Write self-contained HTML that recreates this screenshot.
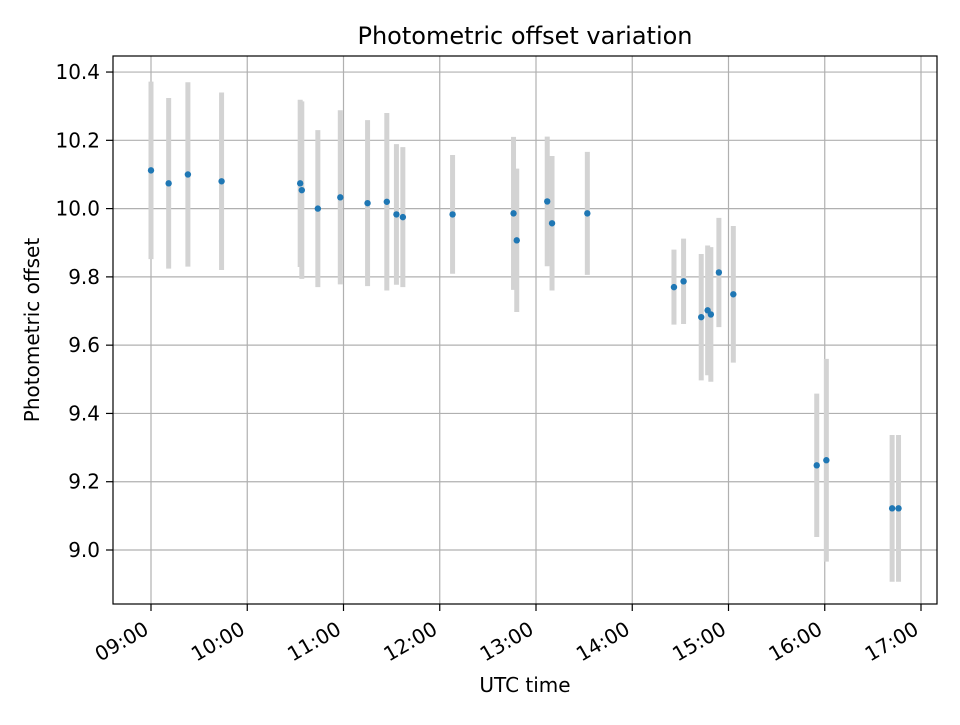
<!DOCTYPE html>
<html><head><meta charset="utf-8"><style>
body{margin:0;background:#fff}
svg text{font-family:"DejaVu Sans","Liberation Sans",sans-serif;fill:#000}
</style></head><body>
<svg id="chart" width="960" height="720" xmlns="http://www.w3.org/2000/svg">
<rect width="960" height="720" fill="#fff"/>
<g id="grid"></g>
<g id="errs"></g>
<g id="pts"></g>
<rect x="113" y="56" width="824" height="548" fill="none" stroke="#000" stroke-width="1.2"/>
<g id="ticks"></g>
<text x="525" y="44" font-size="24" text-anchor="middle">Photometric offset variation</text>
<text x="525" y="692" font-size="20" text-anchor="middle">UTC time</text>
<text transform="translate(39,330) rotate(-90)" font-size="20" text-anchor="middle">Photometric offset</text>
</svg>
<script>
// minutes after 09:00
const times=[0,11,23,44,93,94,104,118,135,147,153,157,188,226,228,247,250,272,326,332,343,347,349,354,363,415,421,462,466];
const values=[10.112,10.074,10.10,10.08,10.074,10.054,10.00,10.033,10.016,10.02,9.983,9.975,9.983,9.986,9.907,10.021,9.957,9.986,9.77,9.787,9.682,9.702,9.69,9.813,9.749,9.248,9.263,9.122,9.122];
const errors=[0.26,0.25,0.27,0.26,0.245,0.26,0.23,0.255,0.243,0.26,0.206,0.205,0.174,0.224,0.21,0.19,0.197,0.18,0.11,0.125,0.185,0.19,0.197,0.16,0.2,0.21,0.297,0.215,0.215];
const yTicks=[9.0,9.2,9.4,9.6,9.8,10.0,10.2,10.4];
const xTickLabels=["09:00","10:00","11:00","12:00","13:00","14:00","15:00","16:00","17:00"];
const NS="http://www.w3.org/2000/svg";
const L=113,R=937,T=56,B=604;
const xs=m=>151+m*96.25/60;
const ys=v=>550-(v-9)*341.4;
function mk(tag,attrs,parent){const e=document.createElementNS(NS,tag);for(const k in attrs)e.setAttribute(k,attrs[k]);parent.appendChild(e);return e;}
const grid=document.getElementById('grid'),ticks=document.getElementById('ticks');
yTicks.forEach(v=>{
  const y=ys(v);
  const g=mk('line',{x1:L,x2:R,y1:y,y2:y,stroke:'#b0b0b0','stroke-width':1.2},grid);
  
  
  mk('line',{x1:L-7,x2:L,y1:y,y2:y,stroke:'#000','stroke-width':1.2},ticks);
  const t=mk('text',{x:L-13,y:y+7,'font-size':20,'text-anchor':'end'},ticks);
  t.textContent=v.toFixed(1);
  
  
});
xTickLabels.forEach((lab,i)=>{
  const x=xs(i*60);
  const g=mk('line',{x1:x,x2:x,y1:T,y2:B,stroke:'#b0b0b0','stroke-width':1.2},grid);
  
  
  mk('line',{x1:x,x2:x,y1:B,y2:B+7,stroke:'#000','stroke-width':1.2},ticks);
  const t=mk('text',{transform:`translate(${x-1},${B+29}) rotate(-30)`,'font-size':20,'text-anchor':'end'},ticks);
  t.textContent=lab;
  
  
});
const errs=document.getElementById('errs'),pts=document.getElementById('pts');
times.forEach((m,i)=>{
  const x=xs(m);
  const e=mk('line',{x1:x,x2:x,y1:ys(values[i]+errors[i]),y2:ys(values[i]-errors[i]),stroke:'#d3d3d3','stroke-width':5},errs);
  
  
  const c=mk('circle',{cx:x,cy:ys(values[i]),r:3.2,fill:'#1f77b4'},pts);
  
  
});
</script>
</body></html>
